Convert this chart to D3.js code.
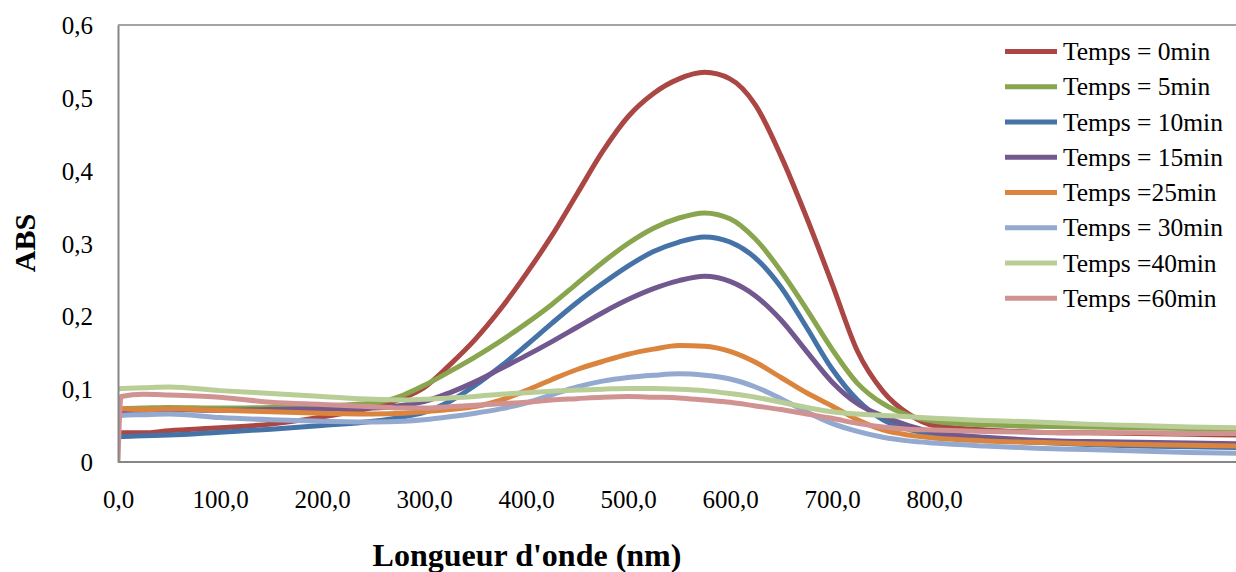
<!DOCTYPE html>
<html>
<head>
<meta charset="utf-8">
<script src="https://cdn.jsdelivr.net/npm/d3@7/dist/d3.min.js"></script>
<style>
  html, body { margin: 0; padding: 0; background: #fff; }
  svg { display: block; }
  text { font-family: "Liberation Serif", "Times New Roman", serif; fill: #000; }
</style>
</head>
<body>
<svg id="chart" width="1236" height="572"></svg>
<script>
// Absorbance spectra recorded at successive times
const wavelengths = [0, 3, 25, 50, 100, 150, 200, 250, 280, 300, 325, 350, 375, 400, 425, 450, 475, 500,
  525, 550, 575, 600, 625, 650, 675, 700, 725, 750, 775, 800, 850, 900, 950, 1000, 1050, 1100];

const seriesNames = ["Temps = 0min", "Temps = 5min", "Temps = 10min", "Temps = 15min",
  "Temps =25min", "Temps = 30min", "Temps =40min", "Temps =60min"];

const abs0 = [0.038, 0.040, 0.040, 0.043, 0.047, 0.052, 0.062, 0.075, 0.088, 0.102, 0.133, 0.168, 0.210, 0.258,
  0.310, 0.368, 0.426, 0.474, 0.506, 0.526, 0.535, 0.526, 0.490, 0.420, 0.336, 0.245, 0.152, 0.097, 0.066,
  0.050, 0.044, 0.041, 0.040, 0.039, 0.038, 0.037];
const abs5 = [0.072, 0.073, 0.074, 0.075, 0.074, 0.075, 0.077, 0.081, 0.092, 0.105, 0.124, 0.144, 0.166, 0.190,
  0.216, 0.245, 0.274, 0.300, 0.321, 0.335, 0.342, 0.334, 0.306, 0.262, 0.210, 0.155, 0.108, 0.080, 0.064,
  0.056, 0.051, 0.049, 0.048, 0.047, 0.046, 0.045];
const abs10 = [0.036, 0.035, 0.036, 0.037, 0.041, 0.045, 0.050, 0.056, 0.062, 0.068, 0.083, 0.105, 0.131, 0.160,
  0.190, 0.219, 0.245, 0.269, 0.289, 0.302, 0.309, 0.302, 0.280, 0.240, 0.185, 0.128, 0.085, 0.058, 0.045,
  0.038, 0.031, 0.027, 0.024, 0.022, 0.021, 0.020];
const abs15 = [0.070, 0.070, 0.071, 0.072, 0.071, 0.072, 0.073, 0.074, 0.078, 0.083, 0.095, 0.110, 0.128, 0.146,
  0.165, 0.185, 0.205, 0.223, 0.238, 0.249, 0.255, 0.248, 0.228, 0.195, 0.152, 0.110, 0.080, 0.063, 0.050,
  0.041, 0.034, 0.030, 0.028, 0.027, 0.026, 0.025];
const abs25 = [0.072, 0.073, 0.072, 0.073, 0.071, 0.069, 0.067, 0.066, 0.067, 0.069, 0.072, 0.076, 0.085, 0.098,
  0.113, 0.127, 0.138, 0.148, 0.155, 0.160, 0.159, 0.152, 0.137, 0.116, 0.095, 0.077, 0.058, 0.044, 0.037,
  0.033, 0.029, 0.027, 0.025, 0.024, 0.023, 0.022];
const abs30 = [0.063, 0.064, 0.065, 0.066, 0.061, 0.058, 0.056, 0.055, 0.056, 0.058, 0.062, 0.067, 0.073, 0.081,
  0.092, 0.103, 0.111, 0.116, 0.119, 0.121, 0.119, 0.114, 0.103, 0.087, 0.069, 0.053, 0.042, 0.034, 0.029,
  0.026, 0.022, 0.019, 0.017, 0.015, 0.013, 0.012];
const abs40 = [0.100, 0.101, 0.102, 0.103, 0.098, 0.094, 0.090, 0.086, 0.085, 0.086, 0.088, 0.090, 0.093, 0.095,
  0.097, 0.099, 0.100, 0.101, 0.101, 0.100, 0.098, 0.094, 0.089, 0.082, 0.075, 0.069, 0.066, 0.064, 0.062,
  0.060, 0.057, 0.055, 0.052, 0.050, 0.048, 0.047];
const abs60 = [0.000, 0.090, 0.093, 0.092, 0.089, 0.082, 0.079, 0.076, 0.074, 0.074, 0.076, 0.078, 0.080, 0.082,
  0.085, 0.087, 0.089, 0.090, 0.089, 0.088, 0.085, 0.082, 0.077, 0.072, 0.066, 0.060, 0.053, 0.048, 0.045,
  0.044, 0.042, 0.041, 0.040, 0.040, 0.039, 0.039];

const seriesValues = [abs0, abs5, abs10, abs15, abs25, abs30, abs40, abs60];
const seriesColors = ["#AA4643", "#89A54E", "#4572A7", "#71588F", "#DB843D", "#93A9CF", "#B9CD96", "#D19392"];

const xTicks = [0, 100, 200, 300, 400, 500, 600, 700, 800];
const yTicks = [0, 0.1, 0.2, 0.3, 0.4, 0.5, 0.6];

const svg = d3.select("#chart");
const plot = { left: 118, top: 25, right: 1240, bottom: 462 };

const x = d3.scaleLinear().domain([0, 1100]).range([plot.left, plot.right]);
const y = d3.scaleLinear().domain([0, 0.6]).range([plot.bottom, plot.top]);

const fmtX = d => d3.format(".1f")(d).replace(".", ",");
const fmtY = d => d === 0 ? "0" : d3.format(".1f")(d).replace(".", ",");

svg.append("defs").append("clipPath").attr("id", "plotClip")
  .append("rect")
  .attr("x", plot.left).attr("y", plot.top - 4)
  .attr("width", plot.right - plot.left).attr("height", plot.bottom - plot.top + 4);

// plot area frame (top edge)
svg.append("line")
  .attr("x1", plot.left).attr("x2", plot.right)
  .attr("y1", plot.top).attr("y2", plot.top)
  .attr("stroke", "#868686").attr("stroke-width", 1.5);

// series
const line = d3.line()
  .x((d, i) => x(wavelengths[i]))
  .y(d => y(d))
  .curve(d3.curveMonotoneX);

const g = svg.append("g").attr("clip-path", "url(#plotClip)");
seriesValues.forEach((vals, k) => {
  g.append("path")
    .datum(vals)
    .attr("d", line)
    .attr("fill", "none")
    .attr("stroke", seriesColors[k])
    .attr("stroke-width", 5)
    .attr("stroke-linejoin", "round")
    .attr("stroke-linecap", "round");
});

// axes
const xAxis = svg.append("g")
  .attr("transform", `translate(0,${plot.bottom})`)
  .call(d3.axisBottom(x).tickValues(xTicks).tickFormat(fmtX).tickSize(0).tickPadding(0));
xAxis.select(".domain").attr("stroke", "#868686").attr("stroke-width", 2)
  .attr("d", `M${plot.left},0H${plot.right}`);
xAxis.selectAll("text")
  .attr("y", 46).attr("dy", null)
  .style("font-family", '"Liberation Serif", serif')
  .style("font-size", "25px");

const yAxis = svg.append("g")
  .attr("transform", `translate(${plot.left},0)`)
  .call(d3.axisLeft(y).tickValues(yTicks).tickFormat(fmtY).tickSize(0).tickPadding(25));
yAxis.select(".domain").attr("stroke", "#868686").attr("stroke-width", 2);
yAxis.selectAll("text")
  .attr("dy", "0.34em")
  .style("font-family", '"Liberation Serif", serif')
  .style("font-size", "25px");

// axis titles
svg.append("text")
  .attr("x", 527).attr("y", 566)
  .attr("text-anchor", "middle")
  .style("font-size", "32px").style("font-weight", "bold")
  .text("Longueur d'onde (nm)");

svg.append("text")
  .attr("transform", "translate(35,243) rotate(-90)")
  .attr("text-anchor", "middle")
  .style("font-size", "30px").style("font-weight", "bold")
  .text("ABS");

// legend
const legend = svg.append("g");
seriesNames.forEach((name, k) => {
  const cy = 51.5 + k * 35.25;
  legend.append("line")
    .attr("x1", 1005).attr("x2", 1057)
    .attr("y1", cy).attr("y2", cy)
    .attr("stroke", seriesColors[k]).attr("stroke-width", 5);
  legend.append("text")
    .attr("x", 1063).attr("y", cy).attr("dy", "0.34em")
    .style("font-size", "25.5px")
    .text(name);
});
</script>
</body>
</html>
